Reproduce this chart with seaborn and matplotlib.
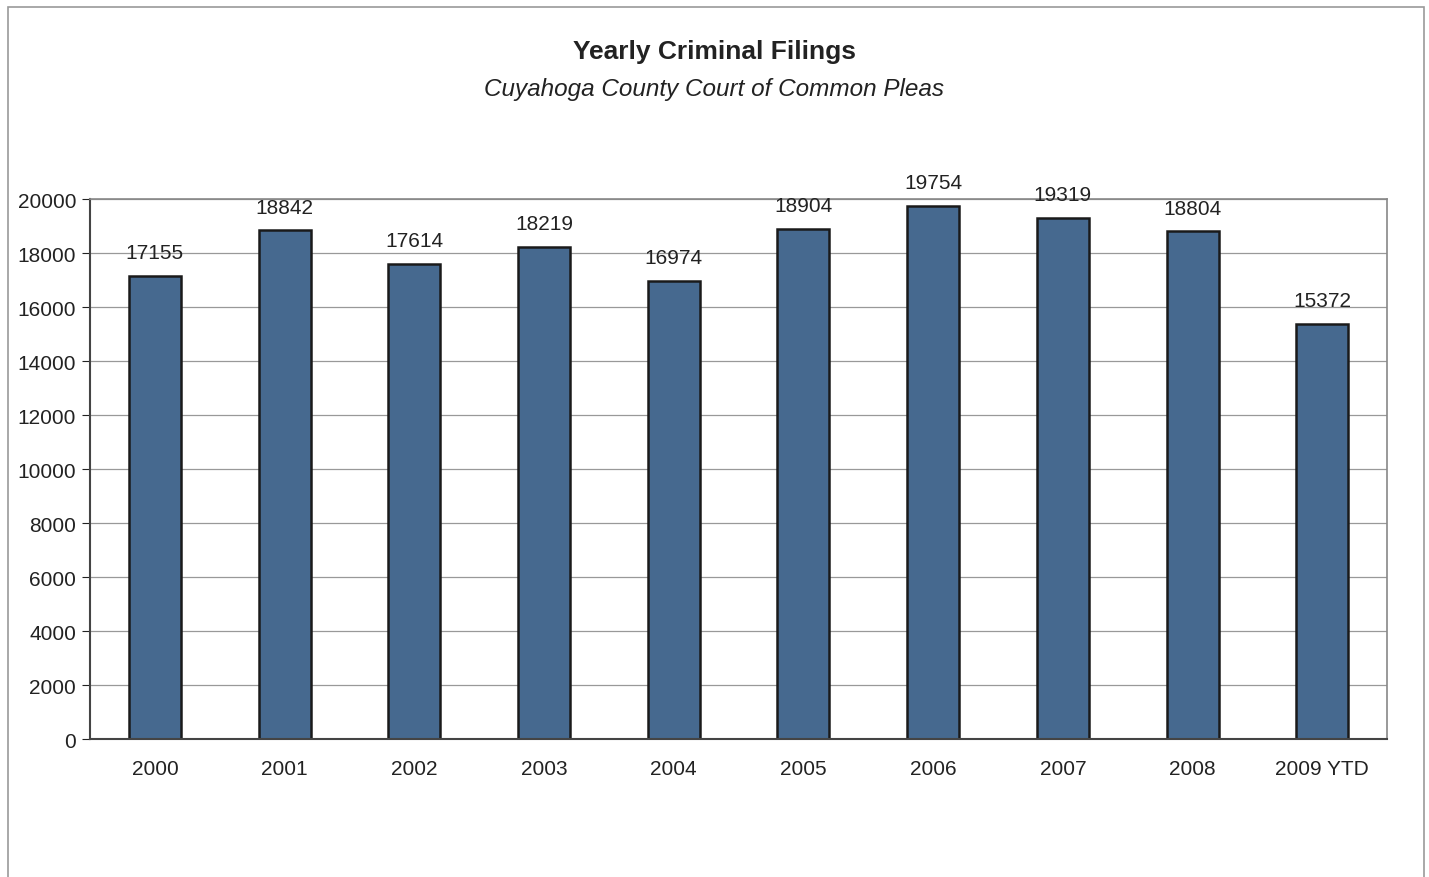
import matplotlib
matplotlib.use("Agg")
import matplotlib.pyplot as plt
import seaborn as sns
import pandas as pd
from matplotlib.patches import Rectangle

years = ["2000", "2001", "2002", "2003", "2004", "2005", "2006", "2007", "2008", "2009 YTD"]
filings = [17155, 18842, 17614, 18219, 16974, 18904, 19754, 19319, 18804, 15372]

df = pd.DataFrame({"year": years, "filings": filings})

sns.set_style("white")
plt.rcParams["font.family"] = ["Liberation Sans", "DejaVu Sans"]

fig = plt.figure(figsize=(14.29, 8.78), dpi=100)
ax = fig.add_axes([0.063, 0.157, 0.9077, 0.615])

sns.barplot(data=df, x="year", y="filings", color="#46698f", saturation=1,
            width=0.4, edgecolor="#1a1a1a", linewidth=1.8, ax=ax)

ax.bar_label(ax.containers[0], fmt="%d", padding=10, fontsize=15, color="#222222")

ax.set_ylim(0, 20000)
ax.set_xlim(-0.5, len(years) - 0.5)
ax.set_yticks(range(0, 20001, 2000))
ax.yaxis.grid(True, color="#999999", linewidth=0.9)
ax.set_axisbelow(True)
ax.set_xlabel("")
ax.set_ylabel("")

# tick marks sit between the categories, labels at the centres
ax.set_xticks([i + 0.5 for i in range(-1, len(years))], minor=True)
ax.tick_params(axis="x", which="major", length=0, labelsize=15, pad=14, colors="#222222")
ax.tick_params(axis="x", which="minor", length=6, color="#555555", direction="out")
ax.tick_params(axis="y", length=6, labelsize=15, pad=4, colors="#222222", direction="out", left=True)

for side in ["left", "bottom"]:
    ax.spines[side].set_color("#444444")
    ax.spines[side].set_linewidth(1.5)
for side in ["top", "right"]:
    ax.spines[side].set_visible(True)
    ax.spines[side].set_color("#888888")
    ax.spines[side].set_linewidth(1.2)

fig.text(0.5, 0.941, "Yearly Criminal Filings", ha="center", va="center",
         fontsize=19, fontweight="bold", color="#222222")
fig.text(0.5, 0.898, "Cuyahoga County Court of Common Pleas", ha="center", va="center",
         fontsize=17.5, style="italic", color="#222222", fontstretch="condensed")

fig.patches.append(Rectangle((0.0056, -0.05), 0.991, 1.041, transform=fig.transFigure,
                             fill=False, edgecolor="#9a9a9a", linewidth=1.2))

fig.savefig("out.png", dpi=100)
plt.close(fig)
